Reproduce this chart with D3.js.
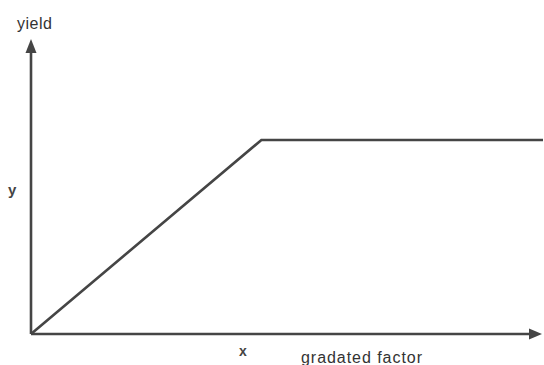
<!DOCTYPE html>
<html>
<head>
<meta charset="utf-8">
<script src="https://cdn.jsdelivr.net/npm/d3@7"></script>
<style>
html,body{margin:0;padding:0;background:#fff;}
svg{display:block;}
text{font-family:"Liberation Sans",Arial,sans-serif;}
</style>
</head>
<body>
<svg id="chart" width="544" height="365"></svg>
<script>
// Data (relative units)
const xValues = [0, 45, 100];
const yValues = [0, 66, 66];
const yAxisTitle = "yield";
const xAxisTitle = "gradated factor";
const yLetter = "y";
const xLetter = "x";

const svg = d3.select("#chart");
const x = d3.scaleLinear().domain([0, 100]).range([31, 543]);
const y = d3.scaleLinear().domain([0, 100]).range([334, 40]);
const col = "#454545";

// axes
svg.append("line").attr("x1", x(0)).attr("y1", y(0)).attr("x2", x(0)).attr("y2", 50)
  .attr("stroke", col).attr("stroke-width", 2.6);
svg.append("line").attr("x1", x(0)).attr("y1", y(0)).attr("x2", 532).attr("y2", y(0))
  .attr("stroke", col).attr("stroke-width", 2.6);
// arrow heads
svg.append("path").attr("d", `M${x(0)},39 L${x(0)-5.5},53 L${x(0)+5.5},53 Z`).attr("fill", col);
svg.append("path").attr("d", `M542,${y(0)} L529,${y(0)-5.5} L529,${y(0)+5.5} Z`).attr("fill", col);

// response line
const pts = xValues.map((v, i) => [v, yValues[i]]);
svg.append("path").datum(pts)
  .attr("d", d3.line().x(d => x(d[0])).y(d => y(d[1])))
  .attr("fill", "none").attr("stroke", col).attr("stroke-width", 2.6)
  .attr("stroke-linejoin", "miter");

// labels
svg.append("text").attr("x", 17).attr("y", 29).attr("font-size", 16)
  .attr("fill", "#333").attr("textLength", 35).text(yAxisTitle);
svg.append("text").attr("x", 8).attr("y", 195).attr("font-size", 15)
  .attr("font-weight", "bold").attr("fill", "#444").text(yLetter);
svg.append("text").attr("x", 239).attr("y", 356).attr("font-size", 14)
  .attr("font-weight", "bold").attr("fill", "#444").text(xLetter);
svg.append("text").attr("x", 301).attr("y", 363).attr("font-size", 16)
  .attr("fill", "#333").attr("textLength", 121).text(xAxisTitle);
</script>
</body>
</html>
